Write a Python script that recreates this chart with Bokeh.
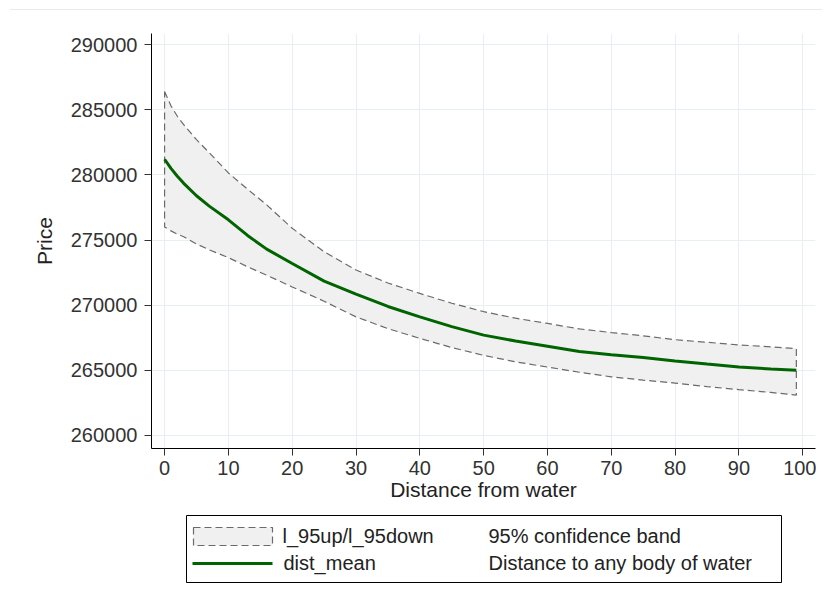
from bokeh.plotting import figure
from bokeh.layouts import column
from bokeh.models import Range1d, FixedTicker, NumeralTickFormatter, Div
from bokeh.core.properties import value
from bokeh.embed import file_html
from bokeh.resources import INLINE

# ---- data ----
distance = [0, 1, 2, 3, 5, 7, 10, 13, 16, 20, 25, 30, 35, 40, 45, 50,
            55, 60, 65, 70, 75, 80, 85, 90, 95, 99]
dist_mean = [281200, 280500, 279900, 279350, 278400, 277600, 276550, 275350,
             274300, 273200, 271850, 270850, 269900, 269100, 268350, 267700,
             267250, 266850, 266450, 266200, 265990, 265720, 265480, 265250,
             265100, 265000]
l_95up = [286400, 285300, 284500, 283850, 282700, 281700, 280150, 278900,
          277700, 275900, 274100, 272700, 271700, 270900, 270150, 269500,
          269000, 268600, 268180, 267900, 267650, 267350, 267150, 266950,
          266800, 266660]
l_95down = [276000, 275700, 275450, 275250, 274700, 274250, 273650, 272950,
            272300, 271400, 270300, 269100, 268200, 267450, 266750, 266150,
            265650, 265250, 264850, 264500, 264250, 264020, 263750, 263520,
            263300, 263100]
x_ticks = [0, 10, 20, 30, 40, 50, 60, 70, 80, 90, 100]
y_ticks = [260000, 265000, 270000, 275000, 280000, 285000, 290000]
legend_keys = ["l_95up/l_95down", "dist_mean"]
legend_descs = ["95% confidence band", "Distance to any body of water"]

FONT = "Liberation Sans"
GREEN = "#006400"
BAND_FILL = "#f0f0f0"
BAND_LINE = "#6a6a6a"
GRID = "#e6eff1"

# ---- top hairline of the graph region ----
topline = Div(width=812, height=1, margin=(9, 0, 0, 10),
              styles={"background-color": "#e3ebed"})

# ---- main plot ----
p = figure(width=816, height=502, output_backend="svg", toolbar_location=None,
           x_range=Range1d(-2.05, 102.0), y_range=Range1d(259000, 290850),
           min_border_left=151, min_border_right=1, min_border_top=23,
           min_border_bottom=64)
p.outline_line_color = None
p.background_fill_color = "white"
p.border_fill_color = "white"

band_x = distance + distance[::-1]
band_y = l_95up + l_95down[::-1]
p.patch(band_x, band_y, fill_color=BAND_FILL, line_color=BAND_LINE,
        line_width=1.2, line_dash="7 4")
p.line(distance, dist_mean, line_color=GREEN, line_width=3)

p.xaxis.ticker = FixedTicker(ticks=x_ticks)
p.yaxis.ticker = FixedTicker(ticks=y_ticks)
p.yaxis.formatter = NumeralTickFormatter(format="0")
p.xaxis.axis_label = "Distance from water"
p.yaxis.axis_label = "Price"
for ax in (p.xaxis, p.yaxis):
    ax.axis_line_color = "black"
    ax.axis_line_width = 1
    ax.major_tick_in = 0
    ax.major_tick_out = 7
    ax.major_tick_line_color = "#333333"
    ax.minor_tick_line_color = None
    ax.major_label_text_font = FONT
    ax.major_label_text_font_size = "20px"
    ax.major_label_text_color = "#333333"
    ax.axis_label_text_font = FONT
    ax.axis_label_text_font_size = "21px"
    ax.axis_label_text_font_style = "normal"
    ax.axis_label_text_color = "#222222"
p.xaxis.major_label_standoff = 5
p.xaxis.axis_label_standoff = 0
p.yaxis.major_label_standoff = 7
p.yaxis.axis_label_standoff = 12

p.xgrid.grid_line_color = GRID
p.ygrid.grid_line_color = GRID
p.xgrid.grid_line_width = 1
p.ygrid.grid_line_width = 1

# ---- legend panel: frame aligned with the plot frame, ranges in page pixels ----
LEG_TOP_PAGE = 512
leg_h = 84
q = figure(width=816, height=leg_h, output_backend="svg", toolbar_location=None,
           x_range=Range1d(151, 815), y_range=Range1d(LEG_TOP_PAGE + leg_h, LEG_TOP_PAGE),
           min_border_left=151, min_border_right=1, min_border_top=0,
           min_border_bottom=0, x_axis_location=None, y_axis_location=None)
q.outline_line_color = None
q.xgrid.visible = False
q.ygrid.visible = False
q.border_fill_color = "white"

# legend frame
q.quad(left=[186], right=[781], top=[515], bottom=[582],
       fill_color=None, line_color="black", line_width=1)
# band swatch
q.quad(left=[193], right=[272], top=[527], bottom=[545],
       fill_color=BAND_FILL, line_color=BAND_LINE, line_width=1.2, line_dash="7 4")
# line swatch
q.line([192, 272], [563, 563], line_color=GREEN, line_width=3)
q.text(x=[282, 283], y=[535, 562], text=legend_keys,
       text_font=value(FONT), text_font_size="20px", text_color="#222222",
       text_baseline="middle", text_align="left")
q.text(x=[488, 488], y=[535, 562], text=legend_descs,
       text_font=value(FONT), text_font_size="20px", text_color="#222222",
       text_baseline="middle", text_align="left")

layout = column(topline, p, q, spacing=0)
open("out.html", "w").write(file_html(layout, INLINE))
